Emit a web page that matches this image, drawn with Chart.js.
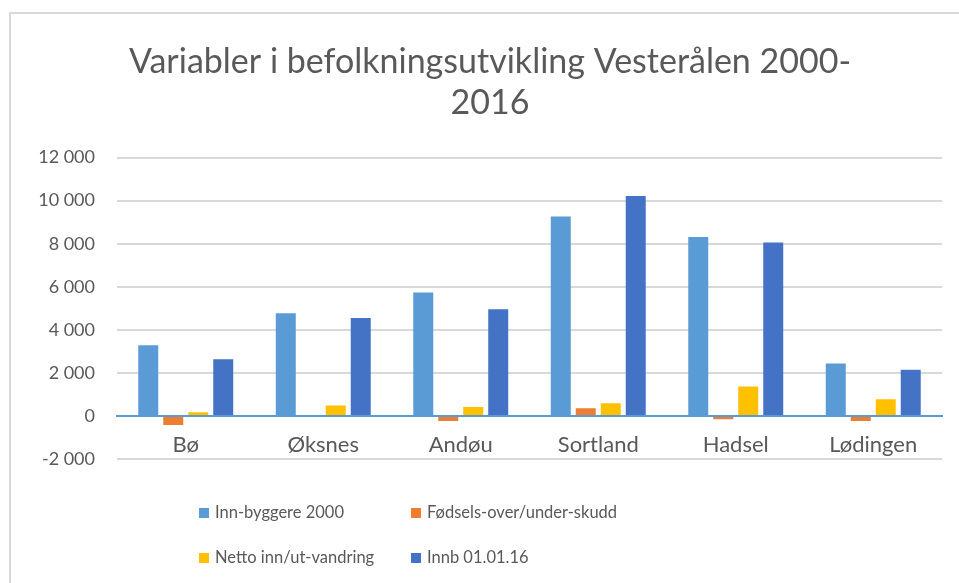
<!DOCTYPE html>
<html>
<head>
<meta charset="utf-8">
<script src="https://cdn.jsdelivr.net/npm/chart.js@4.4.1/dist/chart.umd.min.js"></script>
<style>
  html, body { margin: 0; padding: 0; background: #fff; overflow: hidden; }
  #wrap { position: relative; width: 959px; height: 583px; overflow: hidden; }
  #frame { position: absolute; left: 9px; top: 12px; width: 1000px; height: 1000px; border: 2px solid #d9d9d9; }
  #chart { position: absolute; left: 0; top: 0; }
  .leg { position: absolute; font-family: Lato, sans-serif; font-size: 16.5px; color: #595959; white-space: nowrap; line-height: 20px; }
  .leg span { display: inline-block; width: 10px; height: 10px; margin-right: 6px; vertical-align: 0px; }
</style>
</head>
<body>
<div id="wrap">
  <div id="frame"></div>
  <canvas id="chart" width="959" height="583"></canvas>
  <div id="legend"></div>
</div>
<script>
const categories = ['Bø', 'Øksnes', 'Andøu', 'Sortland', 'Hadsel', 'Lødingen'];
const seriesNames = ['Inn-byggere 2000', 'Fødsels-over/under-skudd', 'Netto inn/ut-vandring', 'Innb 01.01.16'];
const innbyggere2000 = [3280, 4770, 5730, 9260, 8310, 2440];
const fodselsoverskudd = [-420, 0, -230, 360, -150, -230];
const nettoVandring = [170, 480, 420, 590, 1370, 780];
const innb2016 = [2630, 4550, 4960, 10220, 8060, 2150];
const colors = ['#5b9bd5', '#ed7d31', '#ffc000', '#4472c4'];
const yMin = -2000, yMax = 12000, yStep = 2000;

const values = [innbyggere2000, fodselsoverskudd, nettoVandring, innb2016];

function fmt(v) {
    const s = Math.abs(v).toString().replace(/\B(?=(\d{3})+(?!\d))/g, ' ');
    return (v < 0 ? '-' : '') + s;
}

const chart = new Chart(document.getElementById('chart'), {
    type: 'bar',
    data: {
        labels: categories,
        datasets: seriesNames.map((name, i) => ({
            label: name,
            data: values[i],
            backgroundColor: colors[i],
            barPercentage: 0.8,
            categoryPercentage: 0.727
        }))
    },
    options: {
        responsive: false,
        animation: false,
        layout: { padding: { top: 40, left: 38, right: 17, bottom: 124 } },
        plugins: {
            legend: { display: false },
            tooltip: { enabled: false },
            title: {
                display: true,
                text: ['Variabler i befolkningsutvikling Vesterålen 2000-', '2016'],
                color: '#595959',
                font: { family: 'Lato', size: 34, weight: 'normal', lineHeight: 1.2 },
                padding: { top: 2, bottom: 34 }
            }
        },
        scales: {
            x: {
                position: { y: 0 },
                grid: { display: false, drawTicks: false },
                border: { color: '#5b9bd5', width: 2 },
                ticks: { color: '#595959', font: { family: 'Lato', size: 22 }, padding: 16 }
            },
            y: {
                min: yMin,
                max: yMax,
                ticks: {
                    stepSize: yStep,
                    color: '#595959',
                    font: { family: 'Lato', size: 18 },
                    padding: 22,
                    callback: v => fmt(v)
                },
                grid: { color: '#d9d9d9', lineWidth: 2, drawTicks: false },
                border: { display: false },
                afterFit: s => { s.width = 79; }
            }
        }
    }
});

// legend, two columns
const legend = document.getElementById('legend');
const legPos = [[199, 502], [411, 502], [199, 547], [411, 547]];
chart.data.datasets.forEach((ds, i) => {
    const d = document.createElement('div');
    d.className = 'leg';
    d.style.left = legPos[i][0] + 'px';
    d.style.top = legPos[i][1] + 'px';
    d.innerHTML = '<span style="background:' + ds.backgroundColor + '"></span>' + ds.label;
    legend.appendChild(d);
});
</script>
</body>
</html>
